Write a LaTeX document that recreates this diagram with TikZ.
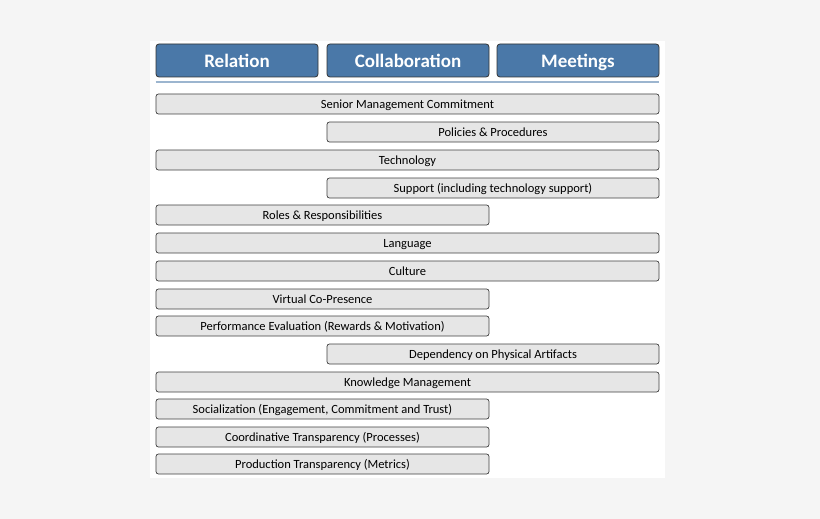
\documentclass[tikz,border=0pt]{standalone}
\usepackage{fontspec}
\setmainfont{Carlito}
\definecolor{headblue}{HTML}{4A78A8}
\definecolor{barfill}{HTML}{E6E6E6}
\tikzset{
  head/.style={draw=black!80, fill=headblue, rounded corners=3pt, line width=0.8pt,
    minimum height=33pt, text=white, text height=15pt, text depth=2pt,
    font=\fontsize{19}{20}\selectfont\bfseries},
  bar/.style={draw=black!75, fill=barfill, rounded corners=2.5pt, line width=0.7pt,
    minimum height=20pt, text height=10.5pt, text depth=1.5pt,
    font=\fontsize{12.5}{13}\selectfont}
}
\begin{document}
\begin{tikzpicture}[x=1pt,y=-1pt]
        \fill[black!4] (0,0) rectangle (820,519);
        \fill[white] (150,41) rectangle (665,478);

        % Headers
        \node[head, minimum width=162pt] (rel) at (237,60.5) {Relation};
        \node[head, minimum width=162pt] (col) at (408,60.5) {Collaboration};
        \node[head, minimum width=162pt] (meet) at (578,60.5) {Meetings};
        \draw[headblue!55, line width=2pt] (rel.south west) ++(0,5) -- ++(503,0);

        % Bars
        \node[bar, minimum width=503pt] (smc) at (407.5,104) {Senior Management Commitment};
        \node[bar, minimum width=332pt] (pol) at (493,132) {Policies \& Procedures};
        \node[bar, minimum width=503pt] (tec) at (407.5,160) {Technology};
        \node[bar, minimum width=332pt] (sup) at (493,188) {Support (including technology support)};
        \node[bar, minimum width=333pt] (rol) at (322.5,215) {Roles \& Responsibilities};
        \node[bar, minimum width=503pt] (lan) at (407.5,243) {Language};
        \node[bar, minimum width=503pt] (cul) at (407.5,271) {Culture};
        \node[bar, minimum width=333pt] (vir) at (322.5,299) {Virtual Co-Presence};
        \node[bar, minimum width=333pt] (per) at (322.5,326) {Performance Evaluation (Rewards \& Motivation)};
        \node[bar, minimum width=332pt] (dep) at (493,354) {Dependency on Physical Artifacts};
        \node[bar, minimum width=503pt] (kno) at (407.5,382) {Knowledge Management};
        \node[bar, minimum width=333pt] (soc) at (322.5,409) {Socialization (Engagement, Commitment and Trust)};
        \node[bar, minimum width=333pt] (coo) at (322.5,437) {Coordinative Transparency (Processes)};
        \node[bar, minimum width=333pt] (pro) at (322.5,464) {Production Transparency (Metrics)};
\end{tikzpicture}
\end{document}
